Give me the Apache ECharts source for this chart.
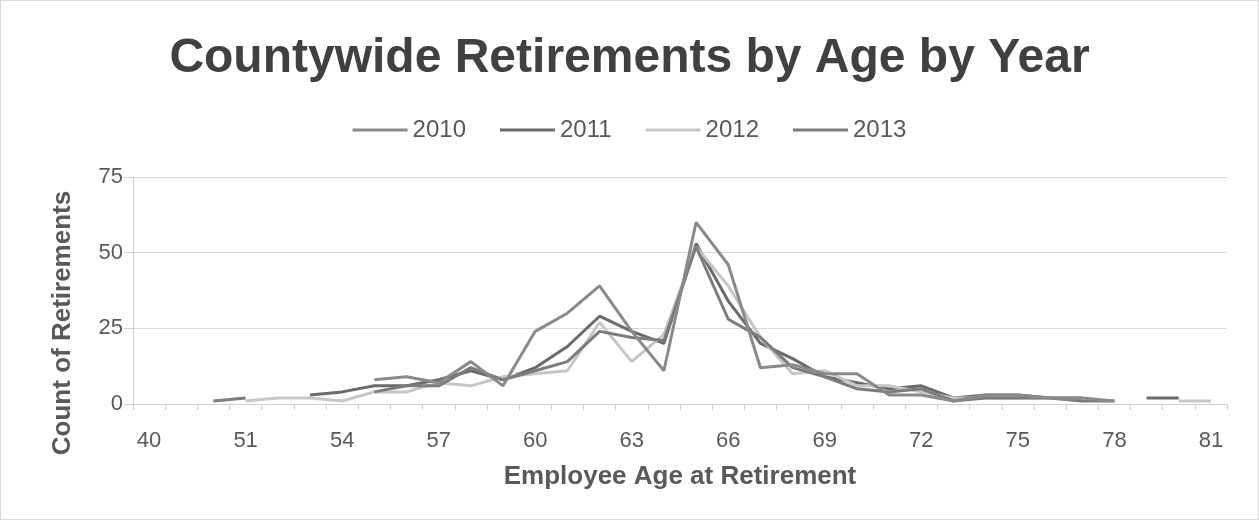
<!DOCTYPE html>
<html>
<head>
<meta charset="utf-8">
<title>Countywide Retirements by Age by Year</title>
<script src="https://cdn.jsdelivr.net/npm/echarts@6/dist/echarts.min.js"></script>
<style>
  html, body { margin: 0; padding: 0; background: #fff; }
  #chart { width: 1259px; height: 520px; box-sizing: border-box; border: 1px solid #d9d9d9; }
</style>
</head>
<body>
<div id="chart"></div>
<script>
// Age categories on the x axis
const ages = ['40', '49', '50', '51', '52', '53', '54', '55', '56', '57', '58', '59', '60',
  '61', '62', '63', '64', '65', '66', '67', '68', '69', '70', '71', '72', '73', '74',
  '75', '76', '77', '78', '79', '80', '81'];

// Retirement counts per age, one array per year (null = no retirements recorded)
const y2010 = [null, null, null, null, null, null, null, 8, 9, 7, 14, 6, 24,
  30, 39, 24, 11, 60, 46, 12, 13, 10, 10, 3, 3, 1, 3,
  3, 2, 2, 1, null, null, null];
const y2011 = [null, null, null, null, null, 3, 4, 6, 6, 8, 11, 8, 12,
  19, 29, 24, 20, 53, 34, 20, 15, 9, 7, 5, 6, 2, 3,
  3, 2, 2, null, 2, 2, null];
const y2012 = [null, null, null, 1, 2, 2, 1, 4, 4, 7, 6, 9, 10,
  11, 27, 14, 23, 52, 39, 22, 10, 11, 6, 6, 4, 2, 2,
  2, 2, 1, null, null, 1, 1];
const y2013 = [null, null, 1, 2, null, null, null, 4, 6, 6, 12, 8, 11,
  14, 24, 22, 21, 52, 28, 22, 12, 9, 5, 4, 5, 1, 2,
  2, 2, 1, 1, null, null, null];

const years = ['2010', '2011', '2012', '2013'];
const yearData = [y2010, y2011, y2012, y2013];
const yearColors = ['#8a8a8a', '#6a6a6a', '#c6c6c6', '#7c7c7c'];

// Value axis ticks
const yMin = 0, yMax = 75, yStep = 25;

const chart = echarts.init(document.getElementById('chart'));
const textColor = '#595959';
const font = 'Liberation Sans, Arial, sans-serif';

chart.setOption({
  animation: false,
  title: {
    text: 'Countywide Retirements by Age by Year',
    left: 'center',
    top: 29,
    textStyle: { fontFamily: font, fontSize: 48, fontWeight: 'bold', color: '#404040' }
  },
  legend: {
    data: years,
    top: 112,
    left: 'center',
    icon: 'rect',
    itemWidth: 55,
    itemHeight: 3,
    itemGap: 34,
    textStyle: { fontFamily: font, fontSize: 24, color: textColor }
  },
  // Vertical axis title, centred on the axis area including its labels
  graphic: [{
    type: 'text',
    x: 62,
    y: 322,
    rotation: Math.PI / 2,
    style: {
      text: 'Count of Retirements',
      fontFamily: font,
      fontSize: 26,
      fontWeight: 'bold',
      fill: textColor,
      align: 'center',
      verticalAlign: 'middle'
    }
  }],
  grid: { left: 132, right: 31, top: 176, bottom: 115 },
  xAxis: {
    type: 'category',
    data: ages,
    boundaryGap: true,
    name: 'Employee Age at Retirement',
    nameLocation: 'middle',
    nameGap: 60,
    nameTextStyle: { fontFamily: font, fontSize: 26, fontWeight: 'bold', color: textColor },
    axisLine: { show: true, lineStyle: { color: '#d0d0d0', width: 1 } },
    axisTick: { show: true, interval: 0, length: 6, lineStyle: { color: '#d0d0d0' } },
    axisLabel: { interval: 2, margin: 26, fontFamily: font, fontSize: 22, color: textColor }
  },
  yAxis: {
    type: 'value',
    min: yMin,
    max: yMax,
    interval: yStep,
    axisLine: { show: true, lineStyle: { color: '#d0d0d0', width: 1 } },
    axisTick: { show: true, length: 9, lineStyle: { color: '#d0d0d0' } },
    splitLine: { show: true, lineStyle: { color: '#d9d9d9', width: 1 } },
    axisLabel: { margin: 10, fontFamily: font, fontSize: 22, color: textColor }
  },
  series: years.map((name, i) => ({
    name: name,
    type: 'line',
    data: yearData[i],
    showSymbol: false,
    symbol: 'none',
    connectNulls: false,
    color: yearColors[i],
    lineStyle: { width: 3, color: yearColors[i] },
    z: i === 0 ? 5 : 3
  }))
});
</script>
</body>
</html>
